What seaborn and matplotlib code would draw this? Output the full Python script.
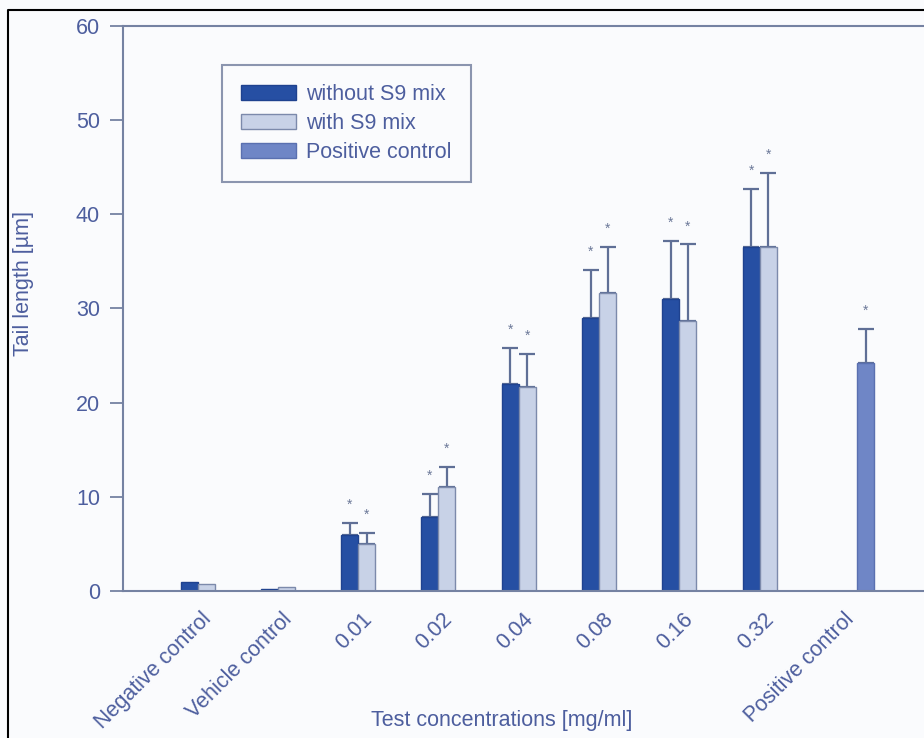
import numpy as np
import pandas as pd
import matplotlib
matplotlib.use("Agg")
import matplotlib.pyplot as plt
import matplotlib.transforms as mtransforms
from matplotlib.lines import Line2D
from matplotlib.patches import Patch
import seaborn as sns

# ---- data -------------------------------------------------------------
categories = ["Negative control", "Vehicle control", "0.01", "0.02", "0.04",
              "0.08", "0.16", "0.32", "Positive control"]
groups = ["without S9 mix", "with S9 mix", "Positive control"]

# mean tail length [µm] and standard deviation per test concentration
without_s9 = [0.95, 0.2, 5.9, 7.85, 22.0, 29.0, 31.0, 36.5]
without_s9_sd = [np.nan, np.nan, 1.3, 2.45, 3.8, 5.1, 6.2, 6.2]
without_s9_sig = [False, False, True, True, True, True, True, True]

with_s9 = [0.7, 0.45, 5.0, 11.0, 21.7, 31.6, 28.7, 36.5]
with_s9_sd = [np.nan, np.nan, 1.2, 2.2, 3.5, 4.9, 8.1, 7.9]
with_s9_sig = [False, False, True, True, True, True, True, True]

positive = [24.2]
positive_sd = [3.6]
positive_sig = [True]

# ---- long-form table ------------------------------------------------------
rows = []
for cat, v, sd, sig in zip(categories[:8], without_s9, without_s9_sd, without_s9_sig):
    rows.append((cat, groups[0], v, sd, sig))
for cat, v, sd, sig in zip(categories[:8], with_s9, with_s9_sd, with_s9_sig):
    rows.append((cat, groups[1], v, sd, sig))
for v, sd, sig in zip(positive, positive_sd, positive_sig):
    rows.append((categories[8], groups[2], v, sd, sig))
df = pd.DataFrame(rows, columns=["category", "group", "value", "sd", "sig"])

# ---- style ---------------------------------------------------------------
sns.set_theme(style="white")
plt.rcParams["font.family"] = ["Liberation Sans", "DejaVu Sans"]

text_col = "#4d5e9e"
axis_col = "#7582a2"
fills = {groups[0]: "#264fa3", groups[1]: "#c8d2e7", groups[2]: "#6f86c6"}
edges = {groups[0]: "#1f428f", groups[1]: "#7c8aab", groups[2]: "#5a70b0"}
bg = "#fafbfd"

fig = plt.figure(figsize=(9.24, 7.38), dpi=100, facecolor=bg)
ax = fig.add_axes([0.1331, 0.1992, 0.8669, 0.7656])
ax.set_facecolor(bg)

sns.barplot(data=df, x="category", y="value", hue="group",
            order=categories, hue_order=groups, palette=fills,
            width=0.635, errorbar=None, dodge=True, saturation=1,
            legend=False, ax=ax, zorder=2)

# bar outlines + error bars + significance marks
for container, grp in zip(ax.containers, groups):
    present = set(df.loc[df["group"] == grp, "category"])
    sub = df[df["group"] == grp].set_index("category").reindex(
        [c for c in categories if c in present])
    for bar, (_, row) in zip(container, sub.iterrows()):
        bar.set_edgecolor(edges[grp])
        bar.set_linewidth(1.0)
        xc = bar.get_x() + bar.get_width() / 2
        top = bar.get_height()
        if not np.isnan(row["sd"]):
            ax.errorbar([xc], [top], yerr=[[0], [row["sd"]]], fmt="none",
                        ecolor="#5f6f96", elinewidth=1.6, capsize=5.5,
                        capthick=1.6, zorder=1)
            if row["sig"]:
                ax.annotate("*", (xc, top + row["sd"]), xytext=(0, 8),
                            textcoords="offset points", ha="center",
                            va="bottom", fontsize=10, color="#6b7898")

# ---- axes ------------------------------------------------------------------
ax.set_ylim(0, 60)
ax.set_xlim(-1.034, 8.94)
ax.set_yticks([0, 10, 20, 30, 40, 50, 60])
ax.tick_params(axis="y", direction="out", length=9.5, width=1.3,
               color=axis_col, labelcolor=text_col, labelsize=15.5, pad=7, left=True)
ax.tick_params(axis="x", length=0, labelcolor=text_col, labelsize=15.5, pad=4)
shift = mtransforms.ScaledTranslation(-5 / 100, -12 / 100, fig.dpi_scale_trans)
for lab in ax.get_xticklabels():
    lab.set_rotation(45)
    lab.set_ha("right")
    lab.set_rotation_mode("anchor")
    lab.set_transform(lab.get_transform() + shift)

for side in ["left", "top", "bottom"]:
    ax.spines[side].set_visible(True)
    ax.spines[side].set_color(axis_col)
    ax.spines[side].set_linewidth(1.5)
ax.spines["right"].set_visible(False)

ax.set_xlabel("Test concentrations [mg/ml]", fontsize=15.5, color=text_col)
ax.xaxis.set_label_coords(0.473, -0.211)
ax.set_ylabel("Tail length [µm]", fontsize=15.5, color=text_col)
ax.yaxis.set_label_coords(-0.111, 0.545)

handles = [Patch(facecolor=fills[g], edgecolor=edges[g], linewidth=1.0, label=g)
           for g in groups]
leg = ax.legend(handles=handles, loc="upper left", bbox_to_anchor=(0.1236, 0.931),
                borderaxespad=0, fontsize=15.5, frameon=True, fancybox=False,
                handlelength=2.55, handleheight=0.7, handletextpad=0.45,
                labelspacing=0.36, borderpad=0.9, labelcolor=text_col)
leg.get_frame().set_edgecolor("#6f7c9c")
leg.get_frame().set_linewidth(1.5)
leg.get_frame().set_facecolor(bg)

# frame line of the figure panel
fig.add_artist(Line2D([8 / 924, 8 / 924, 1.0], [0.0, 1 - 10 / 738, 1 - 10 / 738],
                      transform=fig.transFigure, color="black", linewidth=1.5))

fig.savefig("out.png", dpi=100, facecolor=bg)
